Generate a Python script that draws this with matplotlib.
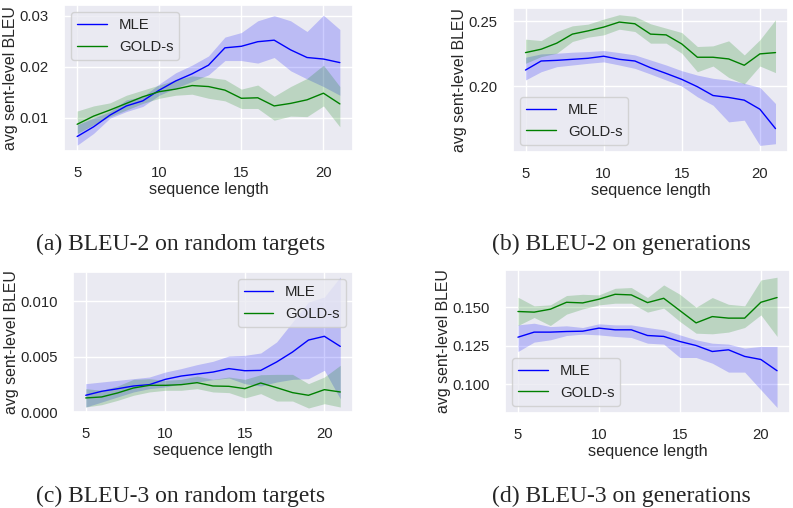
import numpy as np
import matplotlib
matplotlib.use("Agg")
import matplotlib.pyplot as plt
import seaborn as sns

sns.set_theme(style="darkgrid")
plt.rcParams['font.family'] = ['Liberation Sans', 'DejaVu Sans']

lengths = list(range(5, 22))

# (a) BLEU-2 on random targets
a_mle = [0.0063, 0.0082, 0.0105, 0.0123, 0.0133, 0.0154, 0.0172, 0.0186, 0.0203,
         0.0237, 0.0240, 0.0249, 0.0252, 0.0233, 0.0218, 0.0215, 0.0208]
a_mle_hi = [0.0086, 0.0099, 0.0112, 0.0135, 0.0141, 0.0166, 0.0188, 0.0203, 0.0221,
            0.0258, 0.0267, 0.0290, 0.0300, 0.0290, 0.0269, 0.0301, 0.0273]
a_mle_lo = [0.0046, 0.0069, 0.0099, 0.0112, 0.0122, 0.0144, 0.0158, 0.0171, 0.0184,
            0.0212, 0.0212, 0.0207, 0.0218, 0.0192, 0.0176, 0.0161, 0.0144]
a_gold = [0.0087, 0.0103, 0.0115, 0.0128, 0.0141, 0.0151, 0.0156, 0.0163, 0.0161,
          0.0154, 0.0138, 0.0139, 0.0123, 0.0128, 0.0135, 0.0148, 0.0127]
a_gold_hi = [0.0113, 0.0123, 0.0129, 0.0144, 0.0154, 0.0164, 0.0174, 0.0182, 0.0179,
             0.0175, 0.0156, 0.0164, 0.0142, 0.0161, 0.0177, 0.0203, 0.0161]
a_gold_lo = [0.0069, 0.0086, 0.0102, 0.0115, 0.0128, 0.0138, 0.0144, 0.0146, 0.0138,
             0.0133, 0.0118, 0.0118, 0.0095, 0.0103, 0.0102, 0.0123, 0.0082]

# (b) BLEU-2 on generations
b_mle = [0.2124, 0.2194, 0.2199, 0.2207, 0.2215, 0.2231, 0.2207, 0.2194, 0.2142,
         0.2098, 0.2052, 0.1995, 0.1927, 0.1912, 0.1891, 0.1821, 0.1671]
b_mle_hi = [0.2223, 0.2249, 0.2254, 0.2262, 0.2267, 0.2275, 0.2259, 0.2241, 0.2202,
            0.2163, 0.2119, 0.2085, 0.2060, 0.2047, 0.2021, 0.1990, 0.1865]
b_mle_lo = [0.2047, 0.2111, 0.2150, 0.2163, 0.2176, 0.2187, 0.2163, 0.2137, 0.2093,
            0.2047, 0.2000, 0.1917, 0.1852, 0.1723, 0.1736, 0.1541, 0.1554]
b_gold = [0.2259, 0.2285, 0.2332, 0.2402, 0.2427, 0.2456, 0.2495, 0.2482, 0.2402,
          0.2396, 0.2326, 0.2223, 0.2223, 0.2210, 0.2161, 0.2249, 0.2259]
b_gold_hi = [0.2363, 0.2352, 0.2422, 0.2466, 0.2479, 0.2518, 0.2552, 0.2539, 0.2482,
             0.2448, 0.2414, 0.2306, 0.2311, 0.2350, 0.2241, 0.2358, 0.2513]
b_gold_lo = [0.2176, 0.2228, 0.2254, 0.2345, 0.2378, 0.2396, 0.2440, 0.2422, 0.2332,
             0.2332, 0.2254, 0.2111, 0.2155, 0.2067, 0.2016, 0.2155, 0.2104]

# (c) BLEU-3 on random targets
c_mle = [0.00151, 0.00187, 0.00210, 0.00235, 0.00247, 0.00295, 0.00325, 0.00343, 0.00361,
         0.00392, 0.00373, 0.00376, 0.00452, 0.00542, 0.00650, 0.00684, 0.00593]
c_mle_hi = [0.00256, 0.00271, 0.00286, 0.00301, 0.00316, 0.00361, 0.00392, 0.00428, 0.00458,
            0.00506, 0.00512, 0.00533, 0.00633, 0.00813, 0.00994, 0.01039, 0.01220]
c_mle_lo = [0.00045, 0.00090, 0.00136, 0.00181, 0.00211, 0.00226, 0.00256, 0.00271, 0.00292,
            0.00307, 0.00256, 0.00235, 0.00271, 0.00295, 0.00301, 0.00377, 0.00120]
c_gold = [0.00127, 0.00136, 0.00172, 0.00217, 0.00241, 0.00241, 0.00247, 0.00265, 0.00235,
          0.00232, 0.00211, 0.00262, 0.00220, 0.00175, 0.00151, 0.00202, 0.00181]
c_gold_hi = [0.00211, 0.00196, 0.00235, 0.00295, 0.00301, 0.00286, 0.00295, 0.00325, 0.00295,
             0.00316, 0.00295, 0.00337, 0.00340, 0.00340, 0.00256, 0.00316, 0.00422]
c_gold_lo = [0.00045, 0.00066, 0.00105, 0.00151, 0.00181, 0.00196, 0.00196, 0.00211, 0.00181,
             0.00175, 0.00127, 0.00166, 0.00099, 0.00099, 0.00036, 0.00075, 0.00045]

# (d) BLEU-3 on generations
d_mle = [0.1305, 0.1338, 0.1338, 0.1342, 0.1344, 0.1364, 0.1353, 0.1353, 0.1316,
         0.1310, 0.1277, 0.1251, 0.1212, 0.1223, 0.1180, 0.1160, 0.1087]
d_mle_hi = [0.1385, 0.1396, 0.1374, 0.1379, 0.1368, 0.1392, 0.1385, 0.1385, 0.1368,
            0.1353, 0.1320, 0.1288, 0.1266, 0.1260, 0.1234, 0.1245, 0.1245]
d_mle_lo = [0.1212, 0.1273, 0.1288, 0.1316, 0.1325, 0.1320, 0.1310, 0.1303, 0.1266,
            0.1260, 0.1173, 0.1173, 0.1136, 0.1078, 0.1078, 0.0963, 0.0848]
d_gold = [0.1472, 0.1468, 0.1487, 0.1532, 0.1528, 0.1552, 0.1584, 0.1580, 0.1530,
          0.1558, 0.1478, 0.1398, 0.1439, 0.1429, 0.1429, 0.1532, 0.1563]
d_gold_hi = [0.1565, 0.1509, 0.1515, 0.1576, 0.1584, 0.1580, 0.1623, 0.1628, 0.1563,
             0.1645, 0.1584, 0.1500, 0.1563, 0.1519, 0.1509, 0.1677, 0.1695]
d_gold_lo = [0.1381, 0.1433, 0.1381, 0.1455, 0.1489, 0.1515, 0.1526, 0.1526, 0.1468,
             0.1494, 0.1407, 0.1331, 0.1327, 0.1338, 0.1368, 0.1450, 0.1310]

captions = ["(a) BLEU-2 on random targets", "(b) BLEU-2 on generations",
            "(c) BLEU-3 on random targets", "(d) BLEU-3 on generations"]

W, H = 793, 508
fig = plt.figure(figsize=(W / 100, H / 100), dpi=100)


def px_axes(left, top, right, bottom):
    return fig.add_axes([left / W, 1 - bottom / H, (right - left) / W, (bottom - top) / H])


def panel(ax, mle, mle_lo, mle_hi, gold, gold_lo, gold_hi, ylim, yticks, fmt, loc):
    ax.plot(lengths, mle, color='blue', lw=1.0, label='MLE')
    ax.fill_between(lengths, mle_lo, mle_hi, color='blue', alpha=0.2, lw=0)
    ax.plot(lengths, gold, color='green', lw=1.0, label='GOLD-s')
    ax.fill_between(lengths, gold_lo, gold_hi, color='green', alpha=0.2, lw=0)
    ax.set_xlim(4.2, 21.8)
    ax.set_ylim(*ylim)
    ax.set_xticks([5, 10, 15, 20])
    ax.set_yticks(yticks)
    ax.set_yticklabels([fmt.format(t) for t in yticks])
    ax.tick_params(labelsize=10.7, pad=5)
    ax.set_xlabel('sequence length', fontsize=11.7, labelpad=1)
    ax.set_ylabel('avg sent-level BLEU', fontsize=11.4, labelpad=1)
    ax.legend(loc=loc, fontsize=10.7)


axa = px_axes(64, 5, 353, 151)
panel(axa, a_mle, a_mle_lo, a_mle_hi, a_gold, a_gold_lo, a_gold_hi,
      (0.00346, 0.0321), [0.01, 0.02, 0.03], "{:.2f}", 'upper left')

axb = px_axes(513, 8, 788, 152)
panel(axb, b_mle, b_mle_lo, b_mle_hi, b_gold, b_gold_lo, b_gold_hi,
      (0.149, 0.2604), [0.20, 0.25], "{:.2f}", 'lower left')

axc = px_axes(73, 272, 353, 412)
panel(axc, c_mle, c_mle_lo, c_mle_hi, c_gold, c_gold_lo, c_gold_hi,
      (0.0, 0.01265), [0.0, 0.005, 0.010], "{:.3f}", 'upper right')

axd = px_axes(505, 270, 790, 413)
panel(axd, d_mle, d_mle_lo, d_mle_hi, d_gold, d_gold_lo, d_gold_hi,
      (0.0812, 0.1742), [0.100, 0.125, 0.150], "{:.3f}", 'lower left')

cap_font = dict(family='Liberation Serif', fontsize=17, ha='center', va='center')
fig.text(181 / W, 1 - 244 / H, captions[0], **cap_font)
fig.text(621 / W, 1 - 244 / H, captions[1], **cap_font)
fig.text(181 / W, 1 - 496 / H, captions[2], **cap_font)
fig.text(621 / W, 1 - 496 / H, captions[3], **cap_font)

fig.savefig('out.png', dpi=100)
